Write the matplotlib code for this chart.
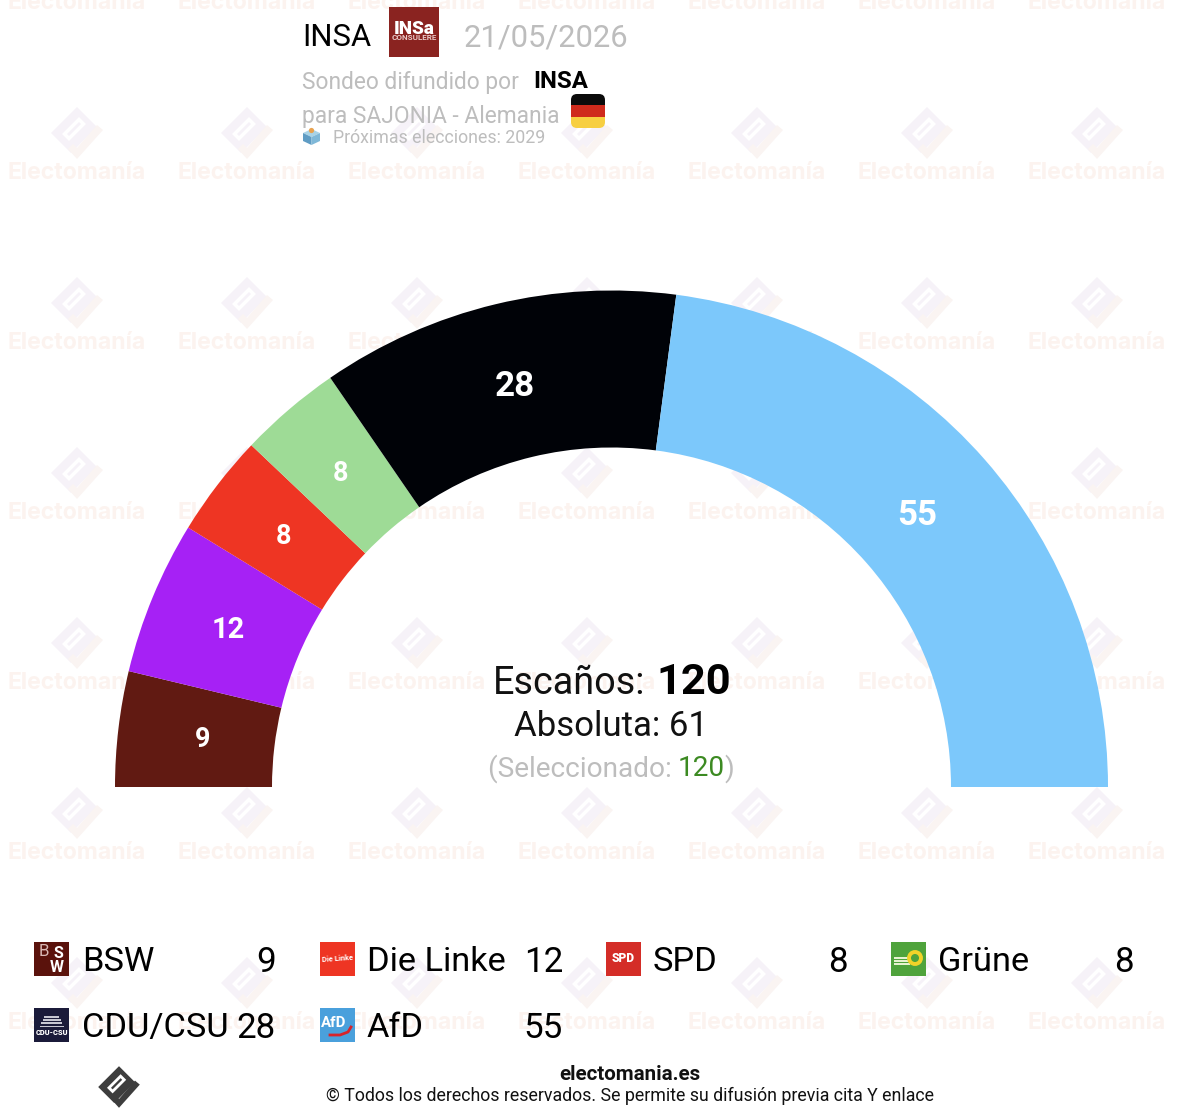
import numpy as np
import matplotlib
matplotlib.use("Agg")
import matplotlib.pyplot as plt
from matplotlib.patches import Wedge, Rectangle, Polygon, FancyBboxPatch, Circle

plt.rcParams['font.family'] = ['Roboto', 'DejaVu Sans']

parties = ["BSW", "Die Linke", "SPD", "Grüne", "CDU/CSU", "AfD"]
seats = [9, 12, 8, 8, 28, 55]
colors = ["#611a12", "#a621f5", "#ee3523", "#9edb96", "#000207", "#7cc8fb"]
label_px = [27, 29, 27, 27, 35, 35]
label_dx = [1, -2, 0, -3, 0, -5]

total_seats = 120
absoluta = 61
seleccionado = 120

BLACK = "#000000"
GREY = "#bdbdbd"

def px(size):
    # tamaños pensados en pixeles de la imagen
    return size * 0.72

fig = plt.figure(figsize=(11.96, 11.16), dpi=100)
ax = fig.add_axes([0, 0, 1, 1])
ax.set_xlim(0, 1196)
ax.set_ylim(1116, 0)
ax.axis("off")


def logo(cx, cy, c1, c2, s=1.0, z=1):
    diamond = [(-26, 0), (0, -26), (20, -6), (-6, 20)]
    hole = [(-15, 1), (2, -16), (9, -9), (-8, 8)]
    slot = [(-10, 1), (2, -11), (4, -9), (-8, 3)]
    check = [(26, -3), (0, 26), (-9, 16), (-4, 11), (0, 15), (20, -8)]
    pts = lambda l: [(cx + a * s, cy + b * s) for a, b in l]
    ax.add_patch(Polygon(pts(diamond), fc=c1, ec="none", zorder=z))
    ax.add_patch(Polygon(pts(hole), fc="white", ec="none", zorder=z))
    ax.add_patch(Polygon(pts(slot), fc=c1, ec="none", zorder=z))
    ax.add_patch(Polygon(pts(check), fc=c2, ec="none", zorder=z))


# marca de agua
for x0 in range(77, 1197, 170):
    for y0 in range(-37, 1116, 170):
        logo(x0, y0, "#f6f2f8", "#faf4f2")
        ax.text(x0, y0 + 40, "Electomanía", family="Inter", weight="bold", fontsize=px(23),
                color="#fcf3ef", ha="center", va="center", zorder=1)

# hemiciclo
cx, cy = 611.5, 787
r_out, r_in = 496.5, 339.5
cum = np.cumsum([0] + seats)
for i in range(len(seats)):
    a1 = 180 + cum[i] / total_seats * 180
    a2 = 180 + cum[i + 1] / total_seats * 180
    ax.add_patch(Wedge((cx, cy), r_out, a1, a2, width=r_out - r_in, fc=colors[i], ec="none", zorder=3))
    mid = np.radians((a1 + a2) / 2)
    ax.text(cx + 413 * np.cos(mid) + label_dx[i], cy + 413 * np.sin(mid) + 1, str(seats[i]), color="white",
            weight="bold", fontsize=px(label_px[i]), ha="center", va="center", zorder=4)

# centro
ax.text(645, 683, "Escaños:", fontsize=px(37.7), color="#111111", ha="right", va="center", zorder=5)
ax.text(656, 682, str(total_seats), fontsize=px(43.5), weight="bold", color=BLACK, ha="left", va="center", zorder=5)
ax.text(611, 726, "Absoluta: %d" % absoluta, fontsize=px(34.8), color="#111111", ha="center", va="center", zorder=5)
ax.text(488, 769, "(Seleccionado: ", fontsize=px(28), color=GREY, ha="left", va="center", zorder=5)
ax.text(678, 769, str(seleccionado), fontsize=px(28), color="#3c8a22", ha="left", va="center", zorder=5)
ax.text(734, 769, ")", fontsize=px(28), color=GREY, ha="right", va="center", zorder=5)

# cabecera
ax.text(302, 38, "INSA", fontsize=px(31), color=BLACK, va="center", zorder=5)
ax.add_patch(Rectangle((389, 7), 50, 50, fc="#8a2320", ec="none", zorder=5))
ax.text(414, 29, "INSa", fontsize=px(19), weight="black", color="white", ha="center", va="center", zorder=6)
ax.text(414, 38, "CONSULERE", fontsize=px(8), weight="bold", color="#e9c9c7", ha="center", va="center", zorder=6)
ax.text(464, 38, "21/05/2026", fontsize=px(31), color=GREY, va="center", zorder=5)
ax.text(302, 82, "Sondeo difundido por", fontsize=px(22.8), color=GREY, va="center", zorder=5)
ax.text(533, 82, "INSA", fontsize=px(24), weight="bold", color=BLACK, va="center", zorder=5)
ax.text(302, 117, "para SAJONIA - Alemania", fontsize=px(22.7), color=GREY, va="center", zorder=5)
ax.text(333, 138, "Próximas elecciones: 2029", fontsize=px(17.7), color=GREY, va="center", zorder=5)

# bandera
clip = FancyBboxPatch((571, 94), 34, 34, boxstyle="round,pad=0,rounding_size=6", fc="none", ec="none", zorder=5)
ax.add_patch(clip)
for k, c in enumerate(["#0b0b0b", "#cf2a1c", "#f7cf41"]):
    r = Rectangle((571, 94 + k * 34 / 3), 34, 34 / 3 + 0.5, fc=c, ec="none", zorder=5)
    ax.add_patch(r)
    r.set_clip_path(clip)

# urna
ax.add_patch(Polygon([(303, 133), (311.5, 129), (320, 133), (311.5, 137)], fc="#a9d3e6", ec="none", zorder=5))
ax.add_patch(Polygon([(303, 133), (311.5, 137), (311.5, 145), (303, 141)], fc="#5f9cc4", ec="none", zorder=5))
ax.add_patch(Polygon([(320, 133), (311.5, 137), (311.5, 145), (320, 141)], fc="#7fb8d8", ec="none", zorder=5))
ax.add_patch(Circle((311.5, 130.5), 2.6, fc="#e9a24f", ec="none", zorder=5))

# leyenda
icon_x = [34, 320, 606, 891, 34, 320]
name_x = [82, 367, 653, 938, 82, 367]
value_x = [276, 563, 848, 1134, 276, 563]
row_y = [959, 959, 959, 959, 1025, 1025]


def icono(i, x, y):
    mx, my = x + 17.5, y + 17
    if i == 0:
        ax.add_patch(Rectangle((x, y), 35, 34, fc="#5a120c", ec="none", zorder=5))
        ax.text(x + 10, y + 10, "B", fontsize=px(17), color="#d9b9b5", ha="center", va="center", zorder=6)
        ax.text(x + 24, y + 11, "S", fontsize=px(16), weight="bold", color="white", ha="center", va="center", zorder=6)
        ax.text(x + 23, y + 25, "W", fontsize=px(16), weight="bold", color="white", ha="center", va="center", zorder=6)
    elif i == 1:
        ax.add_patch(Rectangle((x, y), 35, 34, fc="#ee3523", ec="none", zorder=5))
        ax.text(mx, my, "Die Linke", fontsize=px(7.5), weight="bold", color="white", ha="center", va="center",
                rotation=4, zorder=6)
    elif i == 2:
        ax.add_patch(Rectangle((x, y), 35, 34, fc="#d42d27", ec="none", zorder=5))
        ax.text(mx, my, "SPD", fontsize=px(12), weight="black", color="white", ha="center", va="center", zorder=6)
    elif i == 3:
        ax.add_patch(Rectangle((x, y), 35, 34, fc="#4fa33c", ec="none", zorder=5))
        for k in range(3):
            ax.add_patch(Rectangle((x + 3, y + 15 + k * 3), 16, 1.6, fc="#e7f2d0", ec="none", zorder=6))
        ax.add_patch(Circle((x + 24, y + 16), 6, fc="none", ec="#f2d329", lw=2.8, zorder=6))
    elif i == 4:
        ax.add_patch(Rectangle((x, y), 35, 34, fc="#1b1b3a", ec="none", zorder=5))
        for k in range(4):
            ax.add_patch(Rectangle((x + 10 - k * 1.5, y + 8 + k * 3.2), 15 + k * 3, 1.6, fc="#c7c7d2", ec="none", zorder=6))
        ax.text(mx, y + 25, "CDU-CSU", fontsize=px(7.5), weight="black", color="white", ha="center", va="center", zorder=6)
    else:
        ax.add_patch(Rectangle((x, y), 35, 34, fc="#4aa0dc", ec="none", zorder=5))
        ax.text(x + 14, y + 15, "AfD", fontsize=px(15), weight="bold", color="white", ha="center", va="center", zorder=6)
        ax.plot([x + 10, x + 20, x + 28, x + 31], [y + 27, y + 27, y + 24, y + 19], color="#d8232a", lw=2, zorder=6)


for i in range(len(parties)):
    icono(i, icon_x[i], row_y[i] - 17)
    ax.text(name_x[i], row_y[i] + 3, parties[i], fontsize=px(34.4), color=BLACK, ha="left", va="center", zorder=5)
    ax.text(value_x[i], row_y[i] + 3, str(seats[i]), fontsize=px(35), color=BLACK, ha="right", va="center", zorder=5)

# pie
logo(119, 1087, "#3d3d3d", "#3d3d3d", s=0.8, z=5)
ax.text(630, 1074, "electomania.es", fontsize=px(20.5), weight="bold", color="#111111", ha="center", va="center", zorder=5)
ax.text(630, 1096, "© Todos los derechos reservados. Se permite su difusión previa cita Y enlace",
        fontsize=px(17.8), color="#111111", ha="center", va="center", zorder=5)

fig.savefig("out.png", dpi=100, facecolor="white")
